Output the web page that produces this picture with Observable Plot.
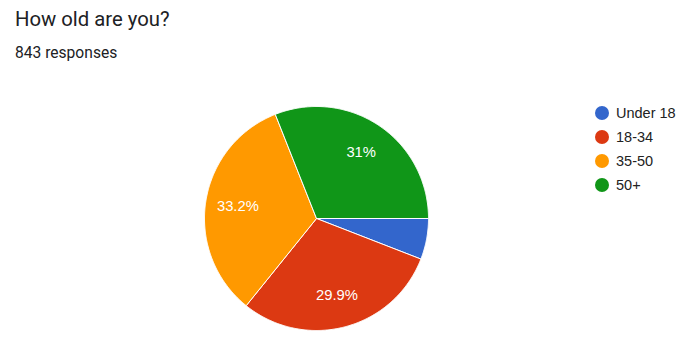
<!DOCTYPE html>
<html>
<head>
<meta charset="utf-8">
<script src="https://cdn.jsdelivr.net/npm/d3@7"></script>
<script src="https://cdn.jsdelivr.net/npm/@observablehq/plot@0.6"></script>
<style>
  html, body { margin: 0; padding: 0; background: #fff; }
  #wrap { position: relative; width: 699px; height: 346px; overflow: hidden; }
  #title { position: absolute; left: 15px; top: 9px; font: 20.3px/20px Roboto, Arial, sans-serif; color: #202124; white-space: nowrap; }
  #subtitle { position: absolute; left: 15px; top: 45.5px; font: 15.6px/15px Roboto, Arial, sans-serif; color: #202124; white-space: nowrap; }
  #chart { position: absolute; left: 0; top: 70px; }
  #legend { position: absolute; left: 595px; top: 101px; font: 14.5px/24px "Liberation Sans", Arial, sans-serif; color: #222; }
  .item { display: flex; align-items: center; height: 24px; }
  .sw { width: 14px; height: 14px; border-radius: 50%; margin-right: 7px; flex: none; }
</style>
</head>
<body>
<div id="wrap">
  <div id="title">How old are you?</div>
  <div id="subtitle">843 responses</div>
  <div id="chart"></div>
  <div id="legend"></div>
</div>
<script>
// Age groups and their share of the 843 responses (percent)
const categories = ["Under 18", "18-34", "35-50", "50+"];
const shares = [5.9, 29.9, 33.2, 31.0];
const colors = ["#3366cc", "#dc3912", "#ff9900", "#109618"];

const W = 699, H = 276;
const cx = 316, cy = 148, R = 112;   // pie centre and radius in pixels
const labelRadius = 0.71;            // where slice labels sit, as a fraction of R
const minLabelShare = 10;            // slices smaller than this get no label

// Slice angles: start at 3 o'clock and run clockwise
const total = d3.sum(shares);
let acc = 0;
const slices = categories.map((c, i) => {
  const a0 = acc / total * 2 * Math.PI;
  acc += shares[i];
  const a1 = acc / total * 2 * Math.PI;
  return {category: c, share: shares[i], a0, a1};
});

// Outline of every slice in unit coordinates: centre, arc, back to centre
const outline = slices.flatMap(s => {
  const n = Math.max(2, Math.ceil((s.a1 - s.a0) / (Math.PI / 360)));
  const pts = [{category: s.category, x: 0, y: 0}];
  for (let k = 0; k <= n; ++k) {
    const a = s.a0 + (s.a1 - s.a0) * k / n;
    pts.push({category: s.category, x: Math.cos(a), y: Math.sin(a)});
  }
  pts.push({category: s.category, x: 0, y: 0});
  return pts;
});

const labels = slices
  .filter(s => s.share >= minLabelShare)
  .map(s => {
    const m = (s.a0 + s.a1) / 2;
    return {x: labelRadius * Math.cos(m), y: labelRadius * Math.sin(m), text: `${+s.share.toFixed(1)}%`};
  });

const chart = Plot.plot({
  width: W,
  height: H,
  margin: 0,
  x: {domain: [-cx / R, (W - cx) / R], range: [0, W], axis: null},
  y: {domain: [-cy / R, (H - cy) / R], range: [0, H], axis: null},
  color: {domain: categories, range: colors},
  style: {background: "transparent"},
  marks: [
    Plot.line(outline, {x: "x", y: "y", z: "category", fill: "category", stroke: "white", strokeWidth: 1, strokeLinejoin: "round"}),
    Plot.text(labels, {x: "x", y: "y", text: "text", fill: "white", fontSize: 14.8, fontFamily: "'Liberation Sans', Arial, sans-serif"})
  ]
});
document.getElementById("chart").appendChild(chart);

// Legend with round swatches
const legend = document.getElementById("legend");
categories.forEach((c, i) => {
  const row = document.createElement("div");
  row.className = "item";
  const sw = document.createElement("span");
  sw.className = "sw";
  sw.style.background = colors[i];
  const tx = document.createElement("span");
  tx.textContent = c;
  row.append(sw, tx);
  legend.append(row);
});
</script>
</body>
</html>
